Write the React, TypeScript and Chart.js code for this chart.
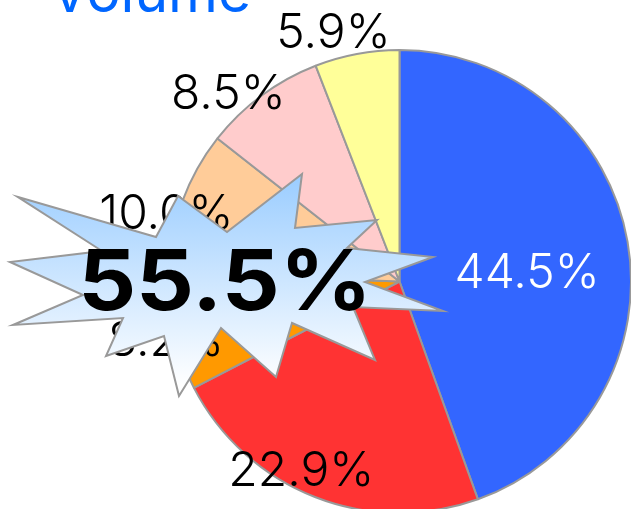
import React, { useEffect, useRef } from "react";
import { Chart, registerables } from "chart.js";

Chart.register(...registerables);

const categories = ["A", "B", "C", "D", "E", "F"];
const shares = [44.5, 22.9, 8.2, 10.0, 8.5, 5.9];
const sliceColors = ["#3366ff", "#ff3333", "#ff9900", "#ffcc99", "#ffcccc", "#ffff99"];
const labelColors = ["#ffffff", "#000000", "#000000", "#000000", "#000000", "#000000"];
const labelRadius = [0.553, 0.915, 1.04, 1.05, 1.1, 1.115];
const labelAngleShift = [5.4, 6.2, -1.4, -3.7, -5.7, -4.2];
const titleText = "Volume";
const burstText = "55.5%";
const burstOutline = [
  [18, 197], [156, 237], [178, 196], [227, 232], [302, 174], [295, 228], [377, 220], [347, 248],
  [433, 257], [365, 282], [443, 311], [353, 307], [375, 360], [292, 323], [276, 377], [221, 328],
  [179, 396], [164, 336], [106, 356], [123, 318], [13, 325], [83, 295], [10, 262], [102, 251],
];

const overlay = {
  id: "overlay",
  afterDraw(chart: any) {
    const { ctx } = chart;
    const arcs = chart.getDatasetMeta(0).data;
    ctx.save();
    ctx.textBaseline = "middle";
    ctx.textAlign = "center";
    ctx.font = "300 48px Inter";
    arcs.forEach((arc: any, i: number) => {
      const p = arc.getProps(["x", "y", "startAngle", "endAngle", "outerRadius"], true);
      const a = (p.startAngle + p.endAngle) / 2 + (labelAngleShift[i] * Math.PI) / 180;
      const r = p.outerRadius * labelRadius[i];
      ctx.fillStyle = labelColors[i];
      ctx.fillText(shares[i].toFixed(1) + "%", p.x + Math.cos(a) * r, p.y + Math.sin(a) * r + 2);
    });
    ctx.beginPath();
    burstOutline.forEach(([x, y], i) => (i ? ctx.lineTo(x, y) : ctx.moveTo(x, y)));
    ctx.closePath();
    const g = ctx.createLinearGradient(0, 172, 0, 385);
    g.addColorStop(0, "#99ccff");
    g.addColorStop(1, "#ffffff");
    ctx.fillStyle = g;
    ctx.fill();
    ctx.strokeStyle = "#999999";
    ctx.lineWidth = 2;
    ctx.lineJoin = "miter";
    ctx.stroke();
    ctx.fillStyle = "#000000";
    ctx.font = "700 84px Inter";
    ctx.save();
    ctx.translate(225, 285);
    ctx.scale(1.08, 1);
    ctx.fillText(burstText, 0, 0);
    ctx.restore();
    ctx.fillStyle = "#0066ff";
    ctx.font = "400 57px Inter";
    ctx.textAlign = "left";
    ctx.textBaseline = "alphabetic";
    ctx.fillText(titleText, 50, 12);
    ctx.restore();
  },
};

export default function App() {
  const ref = useRef<HTMLCanvasElement>(null);
  useEffect(() => {
    document.body.style.margin = "0";
    document.body.style.overflow = "hidden";
    const chart = new Chart(ref.current!, {
      type: "pie",
      data: {
        labels: categories,
        datasets: [
          {
            data: shares,
            backgroundColor: sliceColors,
            borderColor: "#999999",
            borderWidth: 2,
          },
        ],
      },
      options: {
        responsive: false,
        animation: false,
        layout: { padding: { left: 167, top: 49 } },
        plugins: { legend: { display: false }, tooltip: { enabled: false } },
      },
      plugins: [overlay],
    });
    return () => chart.destroy();
  }, []);
  return (
    <div style={{ width: 631, height: 509, overflow: "hidden" }}>
      <canvas ref={ref} width={632} height={514} style={{ display: "block" }} />
    </div>
  );
}
